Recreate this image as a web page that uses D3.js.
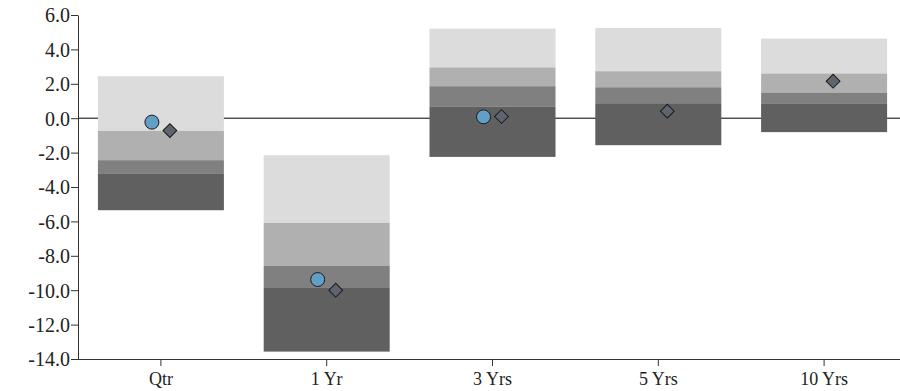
<!DOCTYPE html>
<html><head><meta charset="utf-8">
<script src="https://cdn.jsdelivr.net/npm/d3@7"></script>
<style>body{margin:0;background:#fff}svg{display:block}
svg text{font-family:"Liberation Serif",serif;}
</style>
</head><body>
<svg id="c" width="900" height="391"></svg>
<script>
const categories = ["Qtr","1 Yr","3 Yrs","5 Yrs","10 Yrs"];
// band boundaries, top to bottom: [top, b1, b2, b3, bottom]
const bandTop    = [2.44, -2.15, 5.21, 5.25, 4.63];
const band1      = [-0.74, -6.09, 2.95, 2.73, 2.60];
const band2      = [-2.44, -8.59, 1.86, 1.80, 1.49];
const band3      = [-3.24, -9.83, 0.66, 0.87, 0.83];
const bandBottom = [-5.35, -13.57, -2.25, -1.57, -0.81];
const circleVals  = [-0.23, -9.38, 0.08, null, null];
const diamondVals = [-0.72, -10.0, 0.10, 0.41, 2.15];
const yTicks = [6,4,2,0,-2,-4,-6,-8,-10,-12,-14];
const bandColors = ["#dcdcdc","#b0b0b0","#7f807f","#606060"];

(function(){
const svg = d3.select("#c");
const mLeft = 78, mTop = 15, mBottom = 359;
const y = d3.scaleLinear().domain([-14, 6]).range([mBottom, mTop]);
const x = d3.scaleBand().domain(categories).range([mLeft, 907]).paddingInner(0.24).paddingOuter(0.12);
const fmt = d => d.toFixed(1);

svg.append("line").attr("x1", mLeft).attr("x2", 900).attr("y1", y(0)).attr("y2", y(0))
  .attr("stroke", "#000").attr("stroke-width", 1);

const levels = [bandTop, band1, band2, band3, bandBottom];
categories.forEach((c, i) => {
  for (let k = 0; k < 4; k++) {
    const a = levels[k][i], b = levels[k+1][i];
    svg.append("rect").attr("x", x(c)).attr("width", x.bandwidth())
      .attr("y", y(a)).attr("height", y(b) - y(a)).attr("fill", bandColors[k]);
  }
});

categories.forEach((c, i) => {
  const cx = x(c) + x.bandwidth() / 2;
  if (circleVals[i] !== null) {
    svg.append("circle").attr("cx", cx - 9).attr("cy", y(circleVals[i])).attr("r", 7)
      .attr("fill", "#619fc6").attr("stroke", "#1a1a1a").attr("stroke-width", 1);
  }
  if (diamondVals[i] !== null) {
    svg.append("path").attr("transform", `translate(${cx + 9},${y(diamondVals[i])}) rotate(45)`)
      .attr("d", d3.symbol(d3.symbolSquare, 95)())
      .attr("fill", "#5f656e").attr("stroke", "#1a1a1a").attr("stroke-width", 1);
  }
});

const yAxis = svg.append("g").attr("transform", `translate(${mLeft},0)`)
  .call(d3.axisLeft(y).tickValues(yTicks).tickFormat(fmt).tickSize(7).tickPadding(1).tickSizeOuter(0));
yAxis.attr("font-family", null).attr("font-size", null);
yAxis.selectAll("text").style("font-family", '"Liberation Serif", serif').style("font-size", "20px").attr("fill", "#222").attr("dy", "0.34em");
yAxis.selectAll("line,path").attr("stroke", "#333");

const xAxis = svg.append("g").attr("transform", `translate(0,${mBottom})`)
  .call(d3.axisBottom(x).tickSize(7).tickPadding(6).tickSizeOuter(0));
xAxis.attr("font-family", null).attr("font-size", null);
xAxis.select(".domain").attr("d", `M${mLeft},0.5H900`);
xAxis.selectAll("text").style("font-family", '"Liberation Serif", serif').style("font-size", "18px").attr("fill", "#222");
xAxis.selectAll("line,path").attr("stroke", "#333");
})();
</script>
</body></html>
